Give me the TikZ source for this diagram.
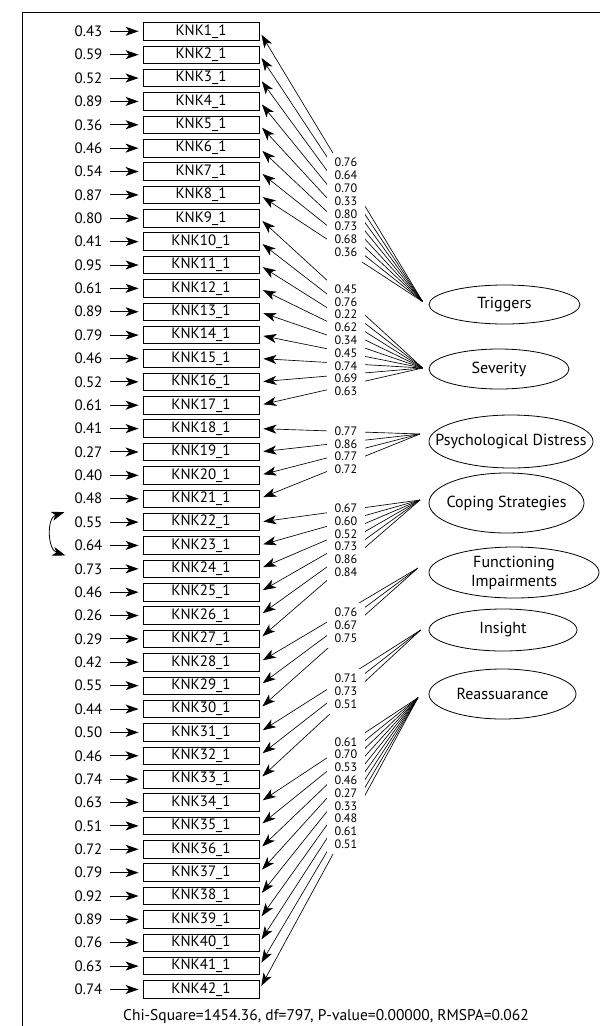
\documentclass[tikz,border=0pt]{standalone}
\usepackage{fontspec}
\setmainfont{PT Sans}
\usetikzlibrary{positioning,shapes.geometric,arrows.meta}

\tikzset{
  indbox/.style={draw, line width=0.8pt, minimum width=116pt, minimum height=17.5pt, inner sep=0pt, font=\fontsize{15}{17}\selectfont},
  errlab/.style={inner sep=0pt, font=\fontsize{15}{17}\selectfont},
  latent/.style={ellipse, draw, line width=0.8pt, inner sep=0pt, align=center, font=\fontsize{16}{19}\selectfont},
  loadblk/.style={fill=white, inner xsep=8pt, inner ysep=5pt, align=center, font=\fontsize{12.2}{12.8}\selectfont},
  errarr/.style={-{Stealth[length=13pt,width=9pt,inset=3.5pt]}, line width=1pt, shorten <=7pt, shorten >=4pt},
  loadarr/.style={-{Stealth[length=13pt,width=9pt,inset=3.5pt]}, line width=0.65pt, shorten >=4pt},
}

\begin{document}
\begin{tikzpicture}[x=1pt, y=-1pt]
\useasboundingbox (0,0) rectangle (600,1026);

\draw[line width=0.9pt] (22,1026) -- (22,12) -- (600,12);

% indicators with their error variances
\foreach \i/\e in {1/0.43, 2/0.59, 3/0.52, 4/0.89, 5/0.36, 6/0.46, 7/0.54, 8/0.87, 9/0.80, 10/0.41,
  11/0.95, 12/0.61, 13/0.89, 14/0.79, 15/0.46, 16/0.52, 17/0.61, 18/0.41, 19/0.27, 20/0.40,
  21/0.48, 22/0.55, 23/0.64, 24/0.73, 25/0.46, 26/0.26, 27/0.29, 28/0.42, 29/0.55, 30/0.44,
  31/0.50, 32/0.46, 33/0.74, 34/0.63, 35/0.51, 36/0.72, 37/0.79, 38/0.92, 39/0.89, 40/0.76,
  41/0.63, 42/0.74}
{
  \node[indbox] (k\i) at (201, {31.3+(\i-1)*23.37}) {KNK\i\_1};
  \node[errlab, left=40pt of k\i] (e\i) {\e};
  \draw[errarr] (e\i) -- (k\i);
}

\draw[{Stealth[length=13pt,width=9pt,inset=3.5pt]}-{Stealth[length=13pt,width=9pt,inset=3.5pt]}, line width=0.8pt]
  ([shift={(-10,-10)}]e22.west) .. controls +(-18,6) and +(-18,-6) .. ([shift={(-9,10)}]e23.west); %e22-e23

% latent variables
\node[latent, minimum width=151pt, minimum height=39pt] (tr) at (504.5,304.5) {\makebox[0pt]{Triggers}};
\node[latent, minimum width=140pt, minimum height=40pt] (sv) at (499,369) {\makebox[0pt]{Severity}};
\node[latent, minimum width=164pt, minimum height=53pt] (pd) at (511,441.5) {\makebox[0pt]{Psychological Distress}};
\node[latent, minimum width=155pt, minimum height=60pt] (cs) at (506.5,503) {\makebox[0pt]{Coping Strategies}};
\node[latent, minimum width=170pt, minimum height=51pt] (fi) at (514,572.5) {Functioning\\Impairments};
\node[latent, minimum width=148pt, minimum height=42pt] (in) at (503,630) {\makebox[0pt]{Insight}};
\node[latent, minimum width=147pt, minimum height=50pt] (re) at (502.5,694) {\makebox[0pt]{Reassuarance}};

\coordinate (trC) at (422.7,301.7);
\coordinate (svC) at (422.7,368);
\coordinate (pdC) at (420,434);
\coordinate (csC) at (420,500);
\coordinate (fiC) at (418,568);
\coordinate (inC) at (420.7,630);
\coordinate (reC) at (418,697.7);

\foreach \i in {1,...,8} \draw[loadarr] (trC) -- (k\i.east);
\foreach \i in {9,...,17} \draw[loadarr] (svC) -- (k\i.east);
\foreach \i in {18,...,21} \draw[loadarr] (pdC) -- (k\i.east);
\foreach \i in {22,...,27} \draw[loadarr] (csC) -- (k\i.east);
\foreach \i in {28,...,30} \draw[loadarr] (fiC) -- (k\i.east);
\foreach \i in {31,...,33} \draw[loadarr] (inC) -- (k\i.east);
\foreach \i in {34,...,42} \draw[loadarr] (reC) -- (k\i.east);

% loadings
\node[loadblk] (trL) at (346,207.5) {0.76\\0.64\\0.70\\0.33\\0.80\\0.73\\0.68\\0.36};
\node[loadblk] (svL) at (346,340.3) {0.45\\0.76\\0.22\\0.62\\0.34\\0.45\\0.74\\0.69\\0.63};
\node[loadblk] (pdL) at (346,450.2) {0.77\\0.86\\0.77\\0.72};
\node[loadblk] (csL) at (346,540.3) {0.67\\0.60\\0.52\\0.73\\0.86\\0.84};
\node[loadblk] (fiL) at (346,625.5) {0.76\\0.67\\0.75};
\node[loadblk] (inL) at (346,691.3) {0.71\\0.73\\0.51};
\node[loadblk] (reL) at (346,793) {0.61\\0.70\\0.53\\0.46\\0.27\\0.33\\0.48\\0.61\\0.51};

\node[errlab, font=\fontsize{15.5}{17}\selectfont] (fit) at (326,1016.7) {Chi-Square=1454.36, df=797, P-value=0.00000, RMSPA=0.062};

\end{tikzpicture}
\end{document}
